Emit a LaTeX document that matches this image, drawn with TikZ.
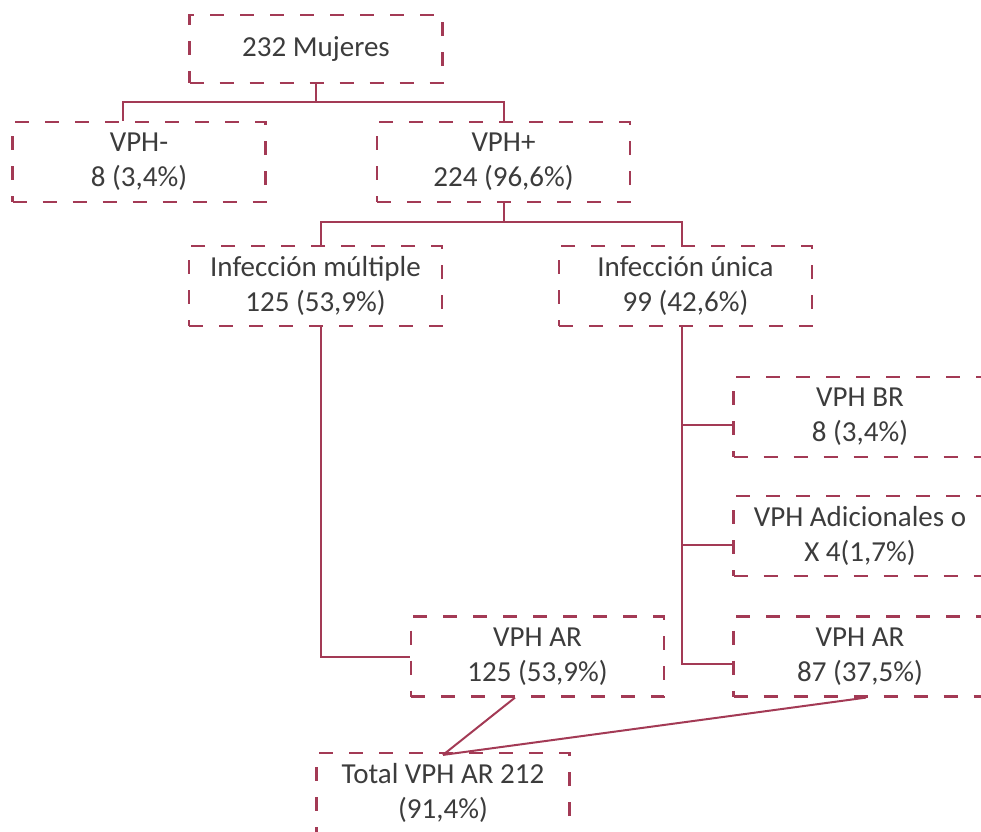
\documentclass[tikz,border=0pt]{standalone}
\usepackage{fontspec}
\setmainfont{Carlito}
\usepackage{xcolor}
\usetikzlibrary{positioning}
\definecolor{FlowWine}{HTML}{A33A55}
\definecolor{InkGray}{HTML}{3C3C3C}

\tikzset{
  flowbox/.style={
    draw=FlowWine,
    line width=1.1pt,
    dash pattern=on 7pt off 8pt,
    minimum width=126.5pt,
    minimum height=40pt,
    inner sep=0pt,
    align=center,
    text=InkGray,
    font=\fontsize{14.5}{17.5}\selectfont
  },
  link/.style={draw=FlowWine, line width=1pt}
}

\begin{document}
\begin{tikzpicture}[x=0.5pt, y=-0.5pt]
    \clip (0,0) rectangle (981,831);

    % boxes
    \node[flowbox, minimum height=34pt] (mujeres) at (316,49) {232 Mujeres};
    \node[flowbox] (vphneg) at (139,162) {VPH-\\8 (3,4\%)};
    \node[flowbox] (vphpos) at (503.5,162) {VPH+\\224 (96,6\%)};
    \node[flowbox] (multiple) at (315.5,286) {Infección múltiple\\125 (53,9\%)};
    \node[flowbox] (unica) at (685.5,286) {Infección única\\99 (42,6\%)};
    \node[flowbox] (vphbr) at (860,417) {VPH BR\\8 (3,4\%)};
    \node[flowbox] (adicional) at (860,536) {VPH Adicionales o\\X 4(1,7\%)};
    \node[flowbox] (arright) at (860,656.5) {VPH AR\\87 (37,5\%)};
    \node[flowbox] (arleft) at (537.5,656.5) {VPH AR\\125 (53,9\%)};
    \node[flowbox] (total) at (443,793) {Total VPH AR 212\\(91,4\%)};

    % connectors
    \draw[link] (mujeres.south) -- ++(0,18) coordinate (forkA);
    \draw[link] ([xshift=-8pt]vphneg.north) |- (forkA) -| (vphpos.north);

    \draw[link] (vphpos.south) -- ++(0,19) coordinate (forkB);
    \draw[link] ([xshift=2.75pt]multiple.north) |- (forkB) -| ([xshift=-1.75pt]unica.north);

    \draw[link] ([xshift=2.75pt]multiple.south) |- (arleft.west);

    \coordinate (trunk) at ([xshift=-1.75pt]unica.south);
    \coordinate (brIn) at ([yshift=-4pt]vphbr.west);
    \coordinate (adIn) at ([yshift=-4.5pt]adicional.west);
    \draw[link] (trunk) |- ([yshift=-3.75pt]arright.west);
    \draw[link] (trunk |- brIn) -- (brIn);
    \draw[link] (trunk |- adIn) -- (adIn);

    \draw[link] ([xshift=-11.25pt]arleft.south) -- ([yshift=-1.5pt]total.north);
    \draw[link] ([xshift=3pt]arright.south) -- ([yshift=-1.5pt]total.north);
\end{tikzpicture}
\end{document}
